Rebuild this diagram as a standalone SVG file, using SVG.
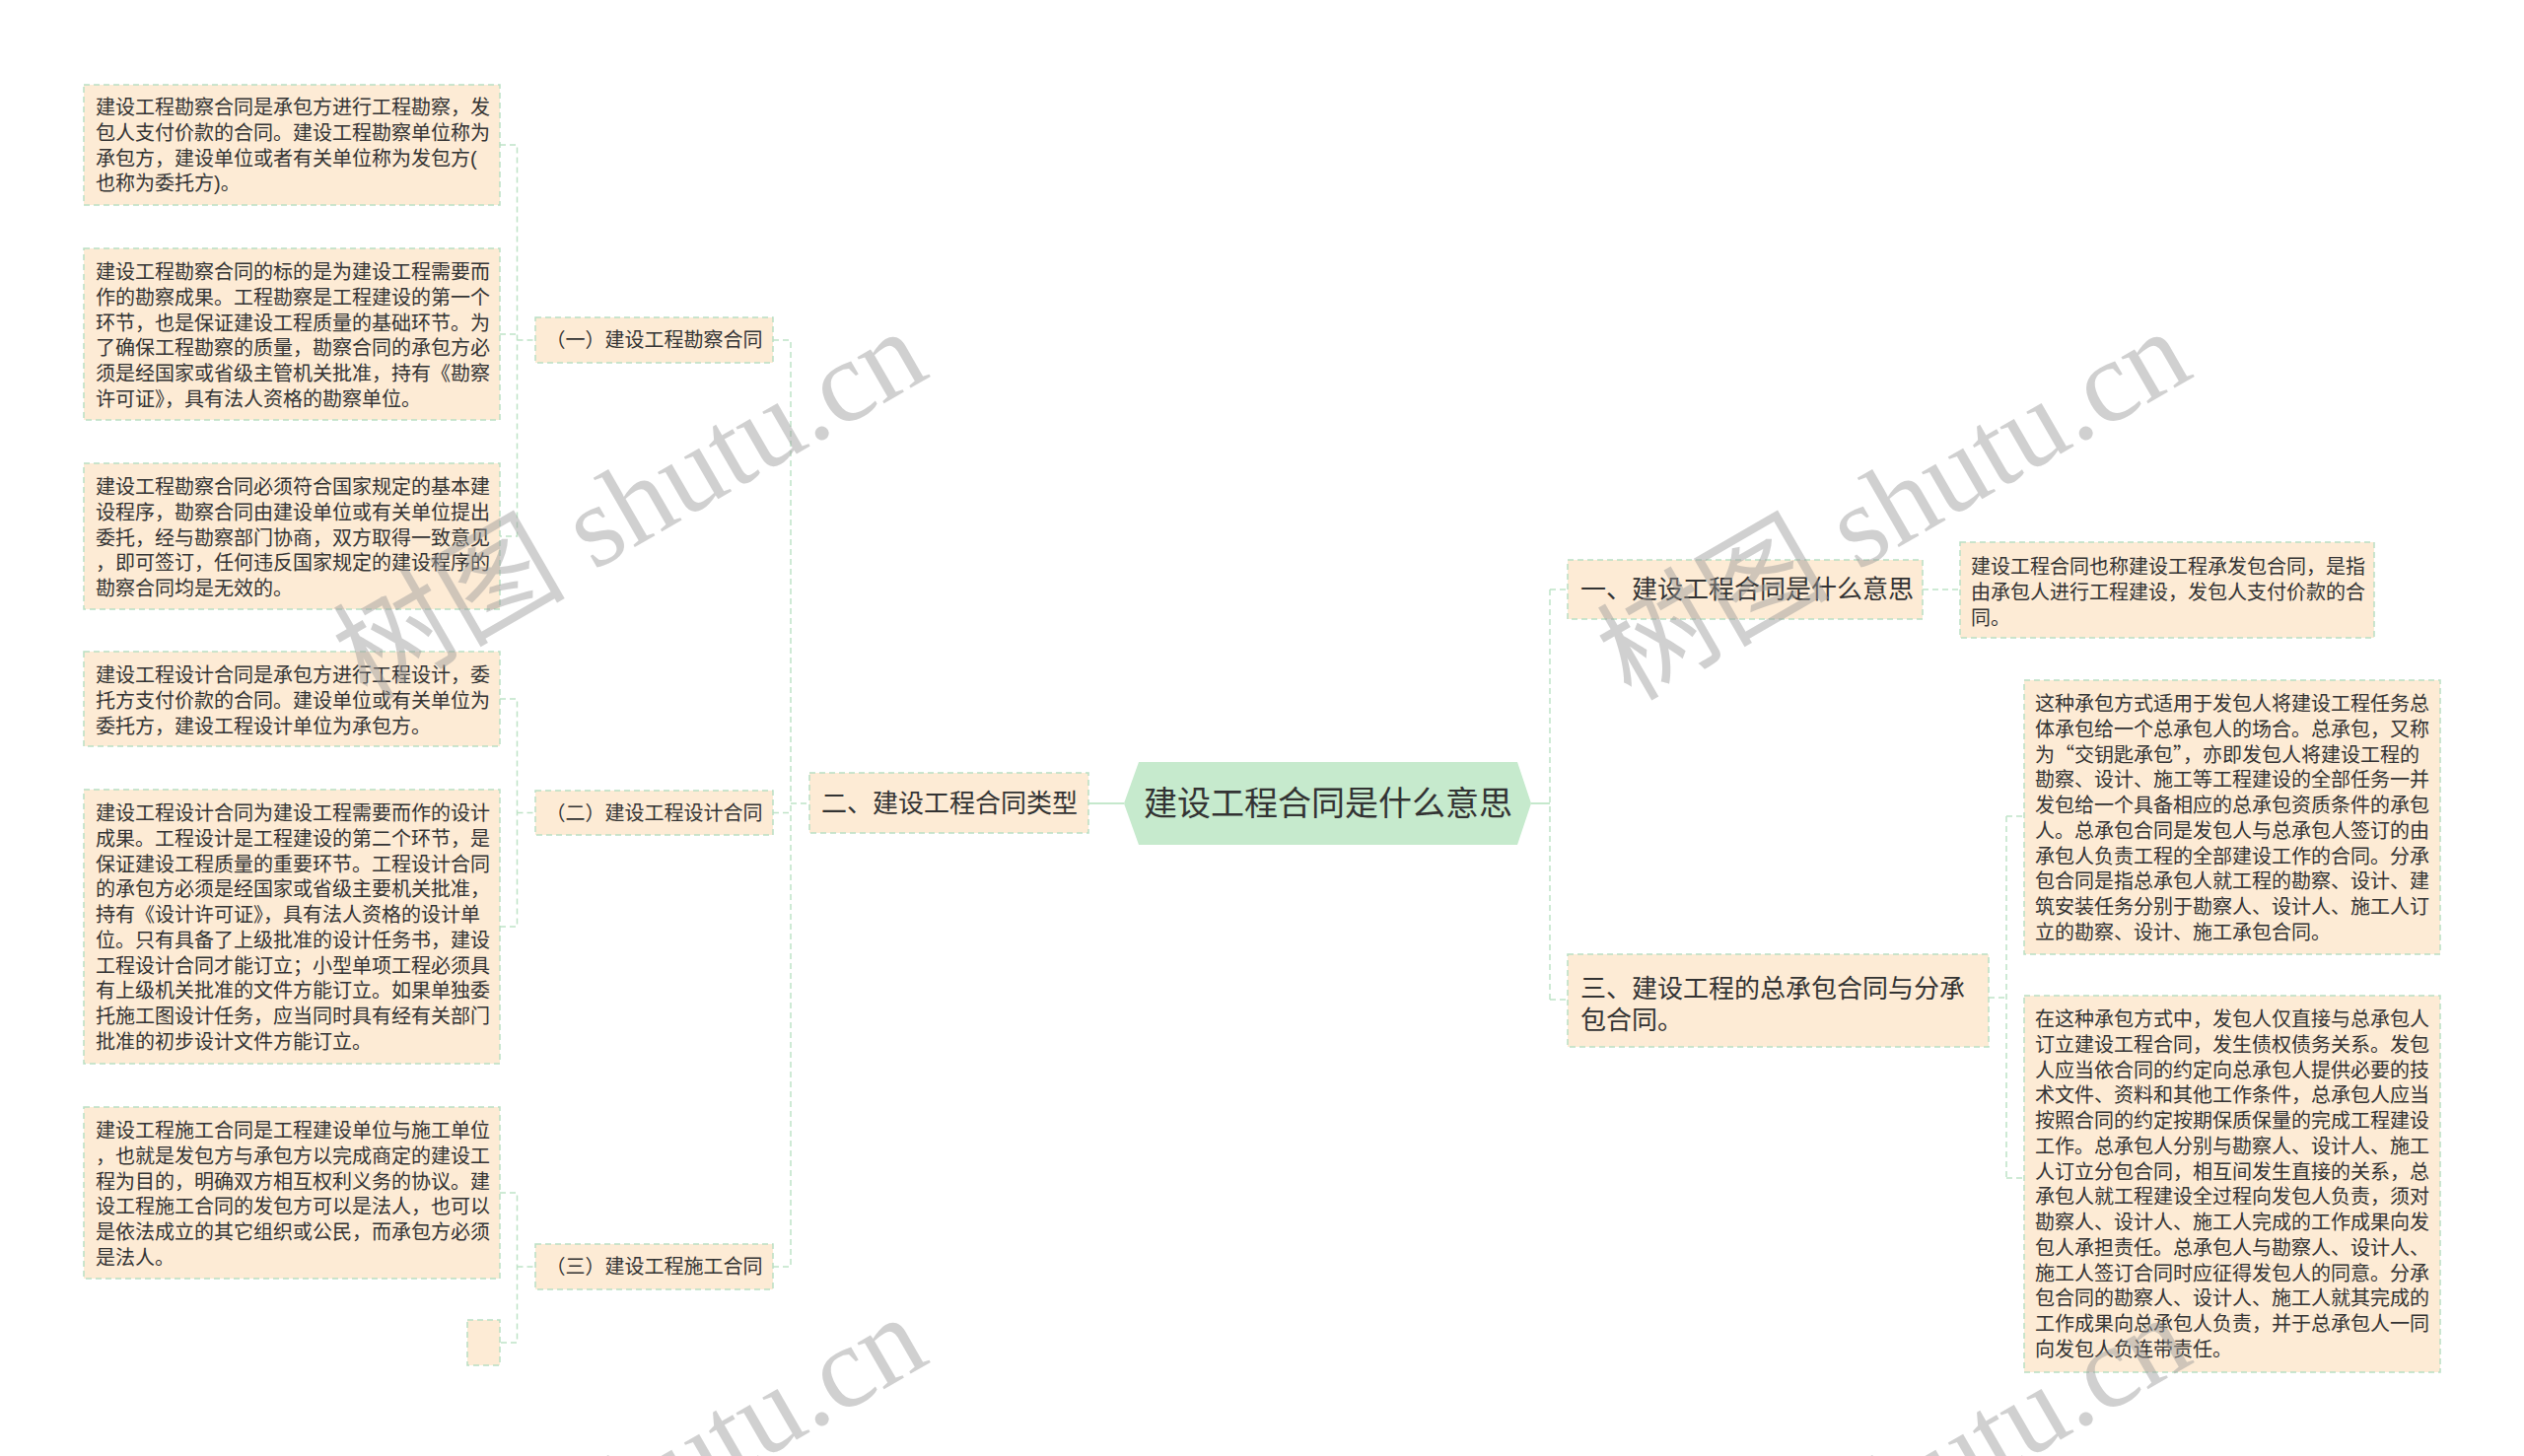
<svg xmlns="http://www.w3.org/2000/svg" width="2560" height="1477" viewBox="0 0 2560 1477">
<style>
.box{fill:#fdebd5;stroke:#b9dfc3;stroke-width:1.5;stroke-dasharray:6 4}
.t{font-family:"Liberation Sans","Noto Sans CJK SC",sans-serif;font-size:20px;fill:#333}
.t26{font-family:"Liberation Sans","Noto Sans CJK SC",sans-serif;font-size:26px;fill:#333}
.cjk{font-family:"Noto Sans CJK SC",sans-serif}
.conn{fill:none;stroke:#bfe3c7;stroke-width:1.5;stroke-dasharray:6 4}
.solid{fill:none;stroke:#c5e8cc;stroke-width:2}
.wm{font-family:"Liberation Serif","Noto Sans CJK SC",serif;font-size:118px;fill:#999;opacity:0.45}
</style>
<rect width="2560" height="1477" fill="#ffffff"/>
<g id="connectors">
<path class="conn" d="M507,147 H524.5 V544 H507 M507,339 H524.5 M524.5,345 H543"/>
<path class="conn" d="M507,709 H524.5 V940 H507 M524.5,824.5 H543"/>
<path class="conn" d="M507,1210 H524.5 V1362 H507 M524.5,1285 H543"/>
<path class="conn" d="M784,345 H802 V1285 H784 M784,824.5 H802 M802,815 H821"/>
<path class="solid" d="M1104,815 H1140"/>
<path class="solid" d="M1553,815 H1572"/>
<path class="conn" d="M1572,598 V1014 M1572,598 H1590 M1572,1014 H1590"/>
<path class="conn" d="M1950,598 H1988"/>
<path class="conn" d="M2017,1012 H2035 M2035,828 V1195 M2035,828 H2053 M2035,1195 H2053"/>
</g>
<g id="root">
<polygon points="1140,815 1155,773 1539,773 1553,815 1539,857 1155,857" fill="#c6eacd"/>
<text class="t" style="font-size:34px" x="1347" y="827" text-anchor="middle">建设工程合同是什么意思</text>
</g>
<g id="n2">
<rect class="box" x="821" y="784" width="283" height="61"/>
<text class="t26" x="833" y="824">二、建设工程合同类型</text>
</g>
<g id="n2a">
<rect class="box" x="543" y="322" width="241" height="46"/>
<text class="t" x="663.5" y="352" text-anchor="middle">（一）建设工程勘察合同</text>
</g>
<g id="n2b">
<rect class="box" x="543" y="802" width="241" height="45"/>
<text class="t" x="663.5" y="831.5" text-anchor="middle">（二）建设工程设计合同</text>
</g>
<g id="n2c">
<rect class="box" x="543" y="1262" width="241" height="46"/>
<text class="t" x="663.5" y="1292" text-anchor="middle">（三）建设工程施工合同</text>
</g>
<g id="b1">
<rect class="box" x="85" y="86" width="422" height="122"/>
<text class="t"><tspan x="97" y="116">建设工程勘察合同是承包方进行工程勘察，发</tspan><tspan x="97" y="141.8">包人支付价款的合同。建设工程勘察单位称为</tspan><tspan x="97" y="167.5">承包方，建设单位或者有关单位称为发包方(</tspan><tspan x="97" y="193.3">也称为委托方)。</tspan></text>
</g>
<g id="b2">
<rect class="box" x="85" y="252" width="422" height="174"/>
<text class="t"><tspan x="97" y="283">建设工程勘察合同的标的是为建设工程需要而</tspan><tspan x="97" y="308.8">作的勘察成果。工程勘察是工程建设的第一个</tspan><tspan x="97" y="334.5">环节，也是保证建设工程质量的基础环节。为</tspan><tspan x="97" y="360.3">了确保工程勘察的质量，勘察合同的承包方必</tspan><tspan x="97" y="386">须是经国家或省级主管机关批准，持有《勘察</tspan><tspan x="97" y="411.8">许可证》，具有法人资格的勘察单位。</tspan></text>
</g>
<g id="b3">
<rect class="box" x="85" y="470" width="422" height="148"/>
<text class="t"><tspan x="97" y="501">建设工程勘察合同必须符合国家规定的基本建</tspan><tspan x="97" y="526.8">设程序，勘察合同由建设单位或有关单位提出</tspan><tspan x="97" y="552.5">委托，经与勘察部门协商，双方取得一致意见</tspan><tspan x="97" y="578.3">，即可签订，任何违反国家规定的建设程序的</tspan><tspan x="97" y="604">勘察合同均是无效的。</tspan></text>
</g>
<g id="b4">
<rect class="box" x="85" y="661" width="422" height="96"/>
<text class="t"><tspan x="97" y="692">建设工程设计合同是承包方进行工程设计，委</tspan><tspan x="97" y="717.8">托方支付价款的合同。建设单位或有关单位为</tspan><tspan x="97" y="743.5">委托方，建设工程设计单位为承包方。</tspan></text>
</g>
<g id="b5">
<rect class="box" x="85" y="801" width="422" height="278"/>
<text class="t"><tspan x="97" y="832">建设工程设计合同为建设工程需要而作的设计</tspan><tspan x="97" y="857.8">成果。工程设计是工程建设的第二个环节，是</tspan><tspan x="97" y="883.5">保证建设工程质量的重要环节。工程设计合同</tspan><tspan x="97" y="909.3">的承包方必须是经国家或省级主要机关批准，</tspan><tspan x="97" y="935">持有《设计许可证》，具有法人资格的设计单</tspan><tspan x="97" y="960.8">位。只有具备了上级批准的设计任务书，建设</tspan><tspan x="97" y="986.5">工程设计合同才能订立；小型单项工程必须具</tspan><tspan x="97" y="1012.3">有上级机关批准的文件方能订立。如果单独委</tspan><tspan x="97" y="1038">托施工图设计任务，应当同时具有经有关部门</tspan><tspan x="97" y="1063.8">批准的初步设计文件方能订立。</tspan></text>
</g>
<g id="b6">
<rect class="box" x="85" y="1123" width="422" height="174"/>
<text class="t"><tspan x="97" y="1154">建设工程施工合同是工程建设单位与施工单位</tspan><tspan x="97" y="1179.8">，也就是发包方与承包方以完成商定的建设工</tspan><tspan x="97" y="1205.5">程为目的，明确双方相互权利义务的协议。建</tspan><tspan x="97" y="1231.3">设工程施工合同的发包方可以是法人，也可以</tspan><tspan x="97" y="1257">是依法成立的其它组织或公民，而承包方必须</tspan><tspan x="97" y="1282.8">是法人。</tspan></text>
</g>
<g id="b7">
<rect class="box" x="474" y="1339" width="33" height="46"/>
</g>
<g id="n1">
<rect class="box" x="1590" y="568" width="360" height="60"/>
<text class="t26" x="1603" y="607">一、建设工程合同是什么意思</text>
</g>
<g id="r1">
<rect class="box" x="1988" y="550" width="420" height="97"/>
<text class="t"><tspan x="1999" y="582">建设工程合同也称建设工程承发包合同，是指</tspan><tspan x="1999" y="607.8">由承包人进行工程建设，发包人支付价款的合</tspan><tspan x="1999" y="633.5">同。</tspan></text>
</g>
<g id="n3">
<rect class="box" x="1590" y="968" width="427" height="94"/>
<text class="t26"><tspan x="1603" y="1012">三、建设工程的总承包合同与分承</tspan><tspan x="1603" y="1044">包合同。</tspan></text>
</g>
<g id="r2">
<rect class="box" x="2053" y="690" width="422" height="278"/>
<text class="t"><tspan x="2064" y="721">这种承包方式适用于发包人将建设工程任务总</tspan><tspan x="2064" y="746.8">体承包给一个总承包人的场合。总承包，又称</tspan><tspan x="2064" y="772.5" class="cjk">为“交钥匙承包”，亦即发包人将建设工程的</tspan><tspan x="2064" y="798.3">勘察、设计、施工等工程建设的全部任务一并</tspan><tspan x="2064" y="824">发包给一个具备相应的总承包资质条件的承包</tspan><tspan x="2064" y="849.8">人。总承包合同是发包人与总承包人签订的由</tspan><tspan x="2064" y="875.5">承包人负责工程的全部建设工作的合同。分承</tspan><tspan x="2064" y="901.3">包合同是指总承包人就工程的勘察、设计、建</tspan><tspan x="2064" y="927">筑安装任务分别于勘察人、设计人、施工人订</tspan><tspan x="2064" y="952.8">立的勘察、设计、施工承包合同。</tspan></text>
</g>
<g id="r3">
<rect class="box" x="2053" y="1010" width="422" height="382"/>
<text class="t"><tspan x="2064" y="1041">在这种承包方式中，发包人仅直接与总承包人</tspan><tspan x="2064" y="1066.8">订立建设工程合同，发生债权债务关系。发包</tspan><tspan x="2064" y="1092.5">人应当依合同的约定向总承包人提供必要的技</tspan><tspan x="2064" y="1118.3">术文件、资料和其他工作条件，总承包人应当</tspan><tspan x="2064" y="1144">按照合同的约定按期保质保量的完成工程建设</tspan><tspan x="2064" y="1169.8">工作。总承包人分别与勘察人、设计人、施工</tspan><tspan x="2064" y="1195.5">人订立分包合同，相互间发生直接的关系，总</tspan><tspan x="2064" y="1221.3">承包人就工程建设全过程向发包人负责，须对</tspan><tspan x="2064" y="1247">勘察人、设计人、施工人完成的工作成果向发</tspan><tspan x="2064" y="1272.8">包人承担责任。总承包人与勘察人、设计人、</tspan><tspan x="2064" y="1298.5">施工人签订合同时应征得发包人的同意。分承</tspan><tspan x="2064" y="1324.3">包合同的勘察人、设计人、施工人就其完成的</tspan><tspan x="2064" y="1350">工作成果向总承包人负责，并于总承包人一同</tspan><tspan x="2064" y="1375.8">向发包人负连带责任。</tspan></text>
</g>
<g id="watermarks">
<text class="wm" transform="translate(372,712) rotate(-30)">树图 shutu.cn</text>
<text class="wm" transform="translate(1654,712) rotate(-30)">树图 shutu.cn</text>
<text class="wm" transform="translate(372,1712) rotate(-30)">树图 shutu.cn</text>
<text class="wm" transform="translate(1654,1712) rotate(-30)">树图 shutu.cn</text>
</g>
</svg>
